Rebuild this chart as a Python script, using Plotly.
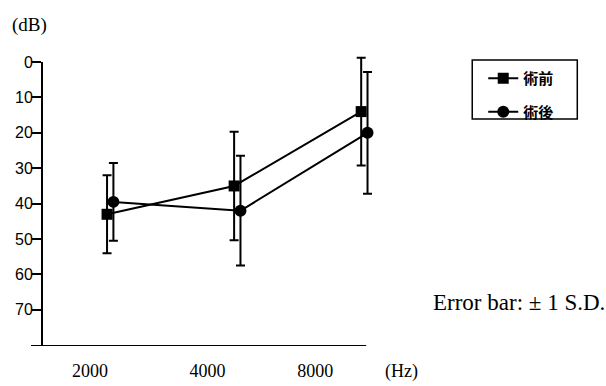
import plotly.graph_objects as go

freq_labels = ["2000", "4000", "8000"]
freq_index = [0, 1, 2]
pre_mean = [43, 35, 14]
pre_sd = [11, 15.3, 15.2]
post_mean = [39.5, 42, 20]
post_sd = [11, 15.5, 17.2]
series_names = ["術前", "術後"]
y_ticks = [0, 10, 20, 30, 40, 50, 60, 70]

post_shift = 0.05
label_shift = [-0.134, -0.209, -0.362]

fig = go.Figure()
fig.add_trace(go.Scatter(
    x=freq_index, y=pre_mean, name=series_names[0], legendgroup="a",
    mode="lines+markers", line=dict(color="black", width=2),
    marker=dict(symbol="square", size=11, color="black"),
    error_y=dict(type="data", array=pre_sd, visible=True, color="black", thickness=2, width=4.5),
))
fig.add_trace(go.Scatter(
    x=[i + post_shift for i in freq_index], y=post_mean, name=series_names[1], legendgroup="b",
    mode="lines+markers", line=dict(color="black", width=2),
    marker=dict(symbol="circle", size=12, color="black"),
    error_y=dict(type="data", array=post_sd, visible=True, color="black", thickness=2, width=4.5),
))

W = 369.8
def px(xp):
    return (xp - 42) / W
def py(yp):
    return (346 - yp) / 307

fig.update_layout(
    width=606, height=386,
    margin=dict(l=42, r=194, t=39, b=40, autoexpand=False),
    paper_bgcolor="white", plot_bgcolor="white",
    showlegend=True,
    legend=dict(x=px(483), y=py(62), xanchor="left", yanchor="top",
                bgcolor="rgba(0,0,0,0)", borderwidth=0,
                traceorder="grouped", tracegroupgap=11,
                font=dict(family="Noto Sans CJK JP", size=15, color="black", weight="bold")),
    xaxis=dict(range=[-0.512, 2.4], showline=False, showgrid=False, zeroline=False, automargin=False,
               tickmode="array", tickvals=[i + s for i, s in zip(freq_index, label_shift)],
               ticktext=freq_labels, ticks="", ticklabelstandoff=12,
               tickfont=dict(family="Liberation Serif", size=18, color="black")),
    yaxis=dict(range=[80.2, -6.5], showline=False, showgrid=False, zeroline=False, automargin=False,
               tickmode="array", tickvals=y_ticks, ticks="outside", ticklen=9, tickwidth=2,
               tickcolor="black", ticklabelstandoff=-4,
               tickfont=dict(family="Liberation Sans", size=16, color="black")),
    shapes=[
        dict(type="line", xref="paper", yref="y", x0=0, x1=0, y0=0, y1=80.2,
             line=dict(color="black", width=2)),
        dict(type="line", xref="paper", yref="y", x0=px(31), x1=px(366), y0=80.2, y1=80.2,
             line=dict(color="black", width=2)),
        dict(type="rect", xref="paper", yref="paper", x0=px(472), x1=px(577), y0=py(119), y1=py(60),
             line=dict(color="black", width=1.5)),
    ],
    annotations=[
        dict(text="(dB)", xref="paper", yref="paper", x=px(10), y=py(25), xanchor="left", yanchor="middle",
             showarrow=False, font=dict(family="Liberation Serif", size=19, color="black")),
        dict(text="(Hz)", xref="paper", yref="paper", x=px(401), y=py(371), xanchor="center", yanchor="middle",
             showarrow=False, font=dict(family="Liberation Serif", size=18, color="black")),
        dict(text="Error bar: ± 1 S.D.", xref="paper", yref="paper", x=px(431), y=py(302),
             xanchor="left", yanchor="middle",
             showarrow=False, font=dict(family="Liberation Serif", size=23, color="black")),
    ],
)

fig.write_html("out.html", post_script="document.body.style.margin='0';",
               config={"displayModeBar": False})
